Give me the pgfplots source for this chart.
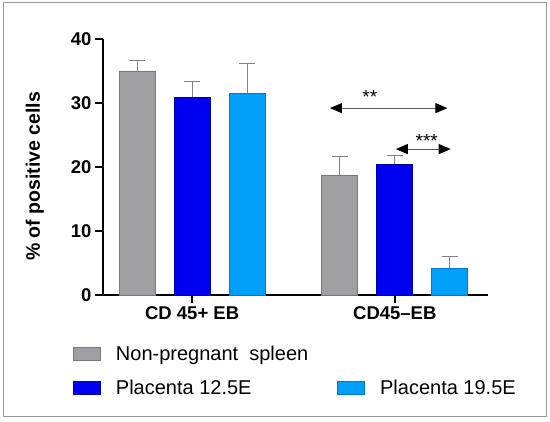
\documentclass[border=0pt]{standalone}
\usepackage{pgfplots}
\pgfplotsset{compat=1.18}
\usepackage{fontspec}
\setmainfont{Liberation Sans}
\usetikzlibrary{arrows.meta}
\definecolor{bargray}{RGB}{160,160,164}
\definecolor{bargrayd}{RGB}{120,120,124}
\definecolor{barblue}{RGB}{0,0,240}
\definecolor{barblued}{RGB}{0,0,170}
\definecolor{barlight}{RGB}{0,160,250}
\definecolor{barlightd}{RGB}{0,120,200}
\definecolor{errgray}{RGB}{130,130,130}
\definecolor{arrgray}{RGB}{90,90,90}
\definecolor{framegray}{RGB}{150,150,150}
\begin{document}
\begin{tikzpicture}[x=1pt,y=1pt]
\useasboundingbox (0,0) rectangle (550,422);
\draw[color=framegray, line width=1pt] (3,5) rectangle (546,419);
\begin{axis}[
  at={(103pt,127pt)}, anchor=south west,
  scale only axis, width=385pt, height=256pt,
  xmin=-0.44, xmax=1.46, ymin=0, ymax=40,
  ybar, bar width=36pt,
  axis lines=left,
  axis line style={-, line width=2.2pt, black},
  xtick={0,1}, xticklabels={CD 45+ EB, CD45–EB},
  ytick={0,10,20,30,40},
  tick align=outside, major tick length=8pt,
  tick style={line width=2pt, black},
  /pgf/number format/assume math mode=true,
  ticklabel style={font=\fontsize{18.5}{22}\selectfont\bfseries},
  ylabel={\% of positive cells},
  ylabel style={font=\fontsize{19.5}{23}\selectfont\bfseries, at={(axis description cs:-0.177,0.463)}, anchor=center},
  legend columns=2,
  legend style={at={(axis description cs:-0.078,-0.189)}, anchor=north west, draw=none, fill=none,
    inner sep=0pt, font=\fontsize{20}{24}\selectfont, row sep=14pt,
    /tikz/every odd column/.append style={column sep=13pt},
    /tikz/every even column/.append style={column sep=27pt}},
  legend cell align=left,
  clip=false,
  error bars/y dir=plus, error bars/y explicit,
  error bars/error bar style={line width=0.8pt, color=errgray},
  error bars/error mark options={line width=0.8pt, color=errgray, mark size=8pt, rotate=90},
]
\addplot[bar shift=-55pt, fill=bargray, draw=bargrayd, line width=0.8pt,
  legend image code/.code={\draw[fill=bargray, draw=bargrayd, line width=0.8pt] (0pt,-6.5pt) rectangle (27pt,6.5pt);}]
  coordinates {(0,35.0) +- (0,1.6) (1,18.7) +- (0,2.9)};
\addlegendentry{Non-pregnant\ \ spleen}
\addlegendimage{empty legend}
\addlegendentry{}
\addplot[bar shift=0pt, fill=barblue, draw=barblued, line width=0.8pt,
  legend image code/.code={\draw[fill=barblue, draw=barblued, line width=0.8pt] (0pt,-6.5pt) rectangle (27pt,6.5pt);}]
  coordinates {(0,30.9) +- (0,2.5) (1,20.4) +- (0,1.4)};
\addlegendentry{Placenta 12.5E}
\addplot[bar shift=55pt, fill=barlight, draw=barlightd, line width=0.8pt,
  legend image code/.code={\draw[fill=barlight, draw=barlightd, line width=0.8pt] (0pt,-6.5pt) rectangle (27pt,6.5pt);}]
  coordinates {(0,31.5) +- (0,4.7) (1,4.2) +- (0,1.8)};
\addlegendentry{Placenta 19.5E}
\addplot[forget plot, sharp plot, line width=1pt, color=arrgray,
  {Triangle[length=12pt,width=10pt,color=black]}-{Triangle[length=12pt,width=10pt,color=black]},
  error bars/y explicit=false, error bars/y dir=none]
  coordinates {(0.68,29.2) (1.26,29.2)};
\addplot[forget plot, sharp plot, line width=1pt, color=arrgray,
  {Triangle[length=12pt,width=10pt,color=black]}-{Triangle[length=12pt,width=10pt,color=black]},
  error bars/y explicit=false, error bars/y dir=none]
  coordinates {(1.005,22.8) (1.276,22.8)};
\node[anchor=base, font=\fontsize{19}{22}\selectfont, inner sep=0pt] at (axis cs:0.877,29.9) {**};
\node[anchor=base, font=\fontsize{19}{22}\selectfont, inner sep=0pt] at (axis cs:1.158,23.0) {***};
\end{axis}
\end{tikzpicture}
\end{document}
